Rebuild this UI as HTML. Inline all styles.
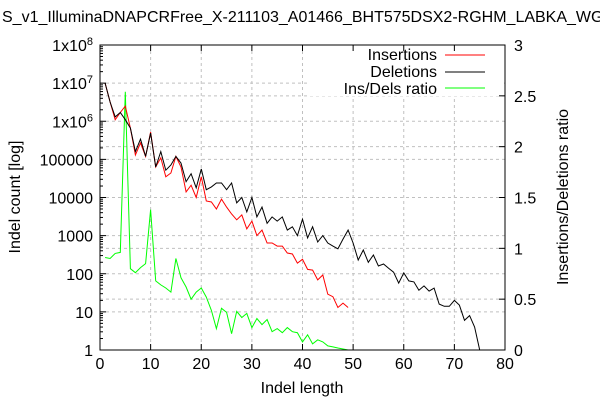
<!DOCTYPE html>
<html><head><meta charset="utf-8"><style>
html,body{margin:0;padding:0;background:#fff;}
svg{display:block;font-family:"Liberation Sans",sans-serif;}
</style></head><body>
<svg id="chart" width="600" height="400" viewBox="0 0 600 400">
<text x="2" y="22" font-size="16" fill="#000">S_v1_IlluminaDNAPCRFree_X-211103_A01466_BHT575DSX2-RGHM_LABKA_WGS</text>
<g id="grid"></g>
<rect x="310" y="46" width="194" height="50" fill="#fff"/>
<g id="series"></g>
<rect x="100" y="45" width="405" height="305" fill="none" stroke="#000" stroke-width="1"/>
<g id="axes"></g>
<text x="302" y="393" font-size="16" text-anchor="middle">Indel length</text>
<text transform="translate(20,197) rotate(-90)" font-size="16" text-anchor="middle">Indel count [log]</text>
<text transform="translate(568,197) rotate(-90)" font-size="16" text-anchor="middle">Insertions/Deletions ratio</text>
<g font-size="16" text-anchor="end">
<g><text x="437" y="60">Insertions</text><line x1="445" y1="55" x2="485" y2="55" stroke="#ff0000"/></g>
<g><text x="437" y="77">Deletions</text><line x1="445" y1="72" x2="485" y2="72" stroke="#000"/></g>
<g><text x="437" y="94">Ins/Dels ratio</text><line x1="445" y1="88" x2="485" y2="88" stroke="#00ff00"/></g>
</g>
</svg>
<script>
const insLengths=[1,2,3,4,5,6,7,8,9,10,11,12,13,14,15,16,17,18,19,20,21,22,23,24,25,26,27,28,29,30,31,32,33,34,35,36,37,38,39,40,41,42,43,44,45,46,47,48,49];
const insertions=[1e7,3.2e6,1.1e6,1.7e6,2.5e6,6.6e5,1.3e5,2.7e5,1.2e5,5.2e5,6.3e4,1.1e5,3.5e4,4.4e4,1.2e5,6.3e4,1.4e4,2.1e4,1.0e4,3.5e4,8.1e3,7.6e3,5.0e3,9.1e3,5.6e3,3.7e3,2.6e3,3.5e3,1.5e3,2.4e3,1.0e3,1.4e3,640,640,530,530,350,330,190,240,130,125,69,93,29,25,13,17,13];
const delLengths=[1,2,3,4,5,6,7,8,9,10,11,12,13,14,15,16,17,18,19,20,21,22,23,24,25,26,27,28,29,30,31,32,33,34,35,36,37,38,39,40,41,42,43,44,45,46,47,48,49,50,51,52,53,54,55,56,57,58,59,60,61,62,63,64,65,66,67,68,69,70,71,72,73,74,75];
const deletions=[1e7,3.2e6,1.3e6,1.7e6,1.1e6,6.6e5,1.6e5,3.4e5,1.2e5,4.9e5,6.3e4,1.6e5,5.2e4,7.1e4,1.2e5,8e4,2.6e4,4.2e4,1.8e4,5.6e4,1.6e4,1.9e4,2.4e4,2.4e4,1.6e4,2.4e4,7.2e3,1.0e4,4.2e3,1.0e4,3.1e3,5.6e3,2.1e3,3.1e3,2.4e3,3.1e3,1.4e3,1.7e3,1.0e3,2.7e3,870,1.7e3,680,1.0e3,640,530,450,810,1.4e3,640,230,420,200,310,160,180,140,110,57,105,65,61,37,48,35,42,16,14,14,20,15,6,8,4,1];
const ratio=[0.91,0.90,0.95,0.96,2.54,0.80,0.76,0.81,0.85,1.38,0.68,0.64,0.61,0.57,0.90,0.71,0.62,0.50,0.57,0.61,0.52,0.39,0.21,0.41,0.37,0.16,0.38,0.32,0.36,0.22,0.31,0.25,0.30,0.18,0.21,0.17,0.22,0.18,0.17,0.08,0.15,0.06,0.10,0.08,0.04,0.03,0.02,0.01,0];
const xTicks=[0,10,20,30,40,50,60,70,80];
const yExps=[0,1,2,3,4,5,6,7,8];
const yTickLabels=["1","10","100","1000","10000","100000","1x10^6","1x10^7","1x10^8"];
const y2Ticks=[0,0.5,1,1.5,2,2.5,3];
const y2TickLabels=["0","0.5","1","1.5","2","2.5","3"];

const NS="http://www.w3.org/2000/svg";
const L=100,R=505,T=45,B=350;
const xs=v=>L+(v-0)/80*(R-L);
const ys=v=>B-(Math.log10(Math.max(v,1))/8)*(B-T);
const y2s=v=>B-v/3*(B-T);
function mk(tag,attrs,parent){const e=document.createElementNS(NS,tag);for(const k in attrs)e.setAttribute(k,attrs[k]);parent.appendChild(e);return e;}
const grid=document.getElementById('grid'),axes=document.getElementById('axes'),series=document.getElementById('series');
const gs={stroke:"#c0c0c0","stroke-dasharray":"3,3","stroke-width":1};
xTicks.forEach((t,i)=>{
  if(t>0&&t<80){const g=mk('line',Object.assign({x1:xs(t),x2:xs(t),y1:T,y2:B},gs),grid);}
  mk('line',{x1:xs(t),x2:xs(t),y1:B,y2:B-6,stroke:"#000"},axes);
  mk('line',{x1:xs(t),x2:xs(t),y1:T,y2:T+6,stroke:"#000"},axes);
  const tx=mk('text',{x:xs(t),y:B+19,"font-size":16,"text-anchor":"middle"},axes);
  tx.textContent=t;
  
  
});
yExps.forEach((e,i)=>{
  const y=ys(Math.pow(10,e));
  if(e>0&&e<8){const g=mk('line',Object.assign({x1:L,x2:R,y1:y,y2:y},gs),grid);}
  mk('line',{x1:L,x2:L+6,y1:y,y2:y,stroke:"#000"},axes);
  if(e<8){for(let m=2;m<10;m++){const yy=ys(m*Math.pow(10,e));mk('line',{x1:L,x2:L+3,y1:yy,y2:yy,stroke:"#000"},axes);}}
  const tx=mk('text',{x:L-7,y:y+6,"font-size":16,"text-anchor":"end"},axes);
  const lab=yTickLabels[i];
  if(lab.indexOf('^')>=0){const p=lab.split('^');tx.appendChild(document.createTextNode(p[0]));const s=mk('tspan',{"font-size":11,dy:-6},tx);s.textContent=p[1];}
  else tx.textContent=lab;
  
  
});
y2Ticks.forEach((t,i)=>{
  const y=y2s(t);
  if(t>0&&t<3){const g=mk('line',Object.assign({x1:L,x2:R,y1:y,y2:y},gs),grid);}
  mk('line',{x1:R-6,x2:R,y1:y,y2:y,stroke:"#000"},axes);
  const tx=mk('text',{x:R+9,y:y+6,"font-size":16},axes);
  tx.textContent=y2TickLabels[i];
  
  
});
function line(xv,yv,scale,color,name){
  const pts=xv.map((x,i)=>xs(x).toFixed(1)+","+scale(yv[i]).toFixed(1)).join(" ");
  const p=mk('polyline',{points:pts,fill:"none",stroke:color,"stroke-width":1},series);
  
  
}
line(insLengths,ratio,y2s,"#00ff00","ratio-line");
line(insLengths,insertions,ys,"#ff0000","insertions-line");
line(delLengths,deletions,ys,"#000000","deletions-line");
</script>
</body></html>
